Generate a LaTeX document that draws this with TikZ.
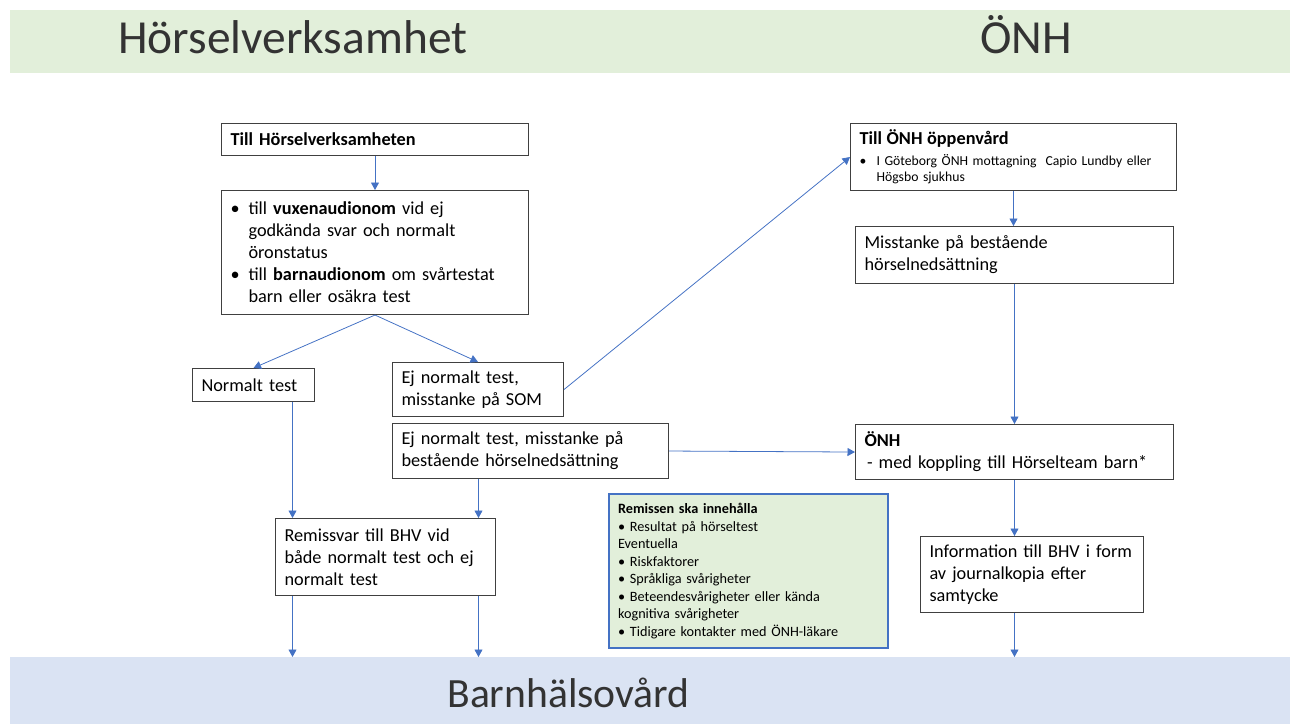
\documentclass[tikz,border=0pt]{standalone}
\usepackage{fontspec}
\setmainfont{Carlito}
\usetikzlibrary{arrows.meta, positioning}
\definecolor{bandgreen}{HTML}{E2EFDA}
\definecolor{bandblue}{HTML}{DAE3F3}
\definecolor{arrowblue}{HTML}{4472C4}
\definecolor{boxline}{HTML}{404040}
\newcommand\bul{\makebox[0.36cm][l]{\textbullet}}
\newcommand\ind{\hspace*{0.36cm}}

\begin{document}
\begin{tikzpicture}[
    x=0.02cm, y=-0.02cm,
    box/.style={draw=boxline, line width=0.6pt, fill=white, anchor=north west, align=left, inner xsep=0.18cm, inner ysep=0pt, font=\fontsize{10.4}{12.5}\selectfont},
    note/.style={box, draw=arrowblue, line width=1.2pt, fill=bandgreen, font=\fontsize{8.1}{10}\selectfont},
    band/.style={anchor=north west, minimum width=25.6cm, inner sep=0pt},
    heading/.style={font=\fontsize{27}{30}\selectfont, text=black!80, inner sep=0pt, anchor=base west},
    arr/.style={-{Triangle[length=1.5mm, width=1.6mm]}, draw=arrowblue, line width=0.45pt},
  ]
    \useasboundingbox (0,0) rectangle (1295,724);

    % bands
    \node[band, fill=bandgreen, minimum height=1.26cm] (top) at (10,10) {};
    \node[band, fill=bandblue, minimum height=1.34cm] (bhv) at (10,657) {};
    \node[heading] (hvtitle) at (118,53) {Hörselverksamhet};
    \node[heading] (onhtitle) at (980,53) {ÖNH};
    \node[heading, font=\fontsize{23.7}{28}\selectfont] (bhvtitle) at (447,707) {Barnhälsovård};

    % Hörselverksamhet
    \node[box, text width=5.78cm, minimum height=0.64cm] (hv) at (221,123) {\textbf{Till Hörselverksamheten}};
    \node[box, text width=5.78cm, minimum height=2.48cm] (aud) at (221,190)
      {\bul till \textbf{vuxenaudionom} vid ej\\
       \ind godkända svar och normalt\\
       \ind öronstatus\\
       \bul till \textbf{barnaudionom} om svårtestat\\
       \ind barn eller osäkra test};
    \node[box, text width=2.08cm, minimum height=0.66cm] (norm) at (192,368) {Normalt test};
    \node[box, text width=3.06cm, minimum height=1.08cm] (som) at (392,362) {Ej normalt test,\\misstanke på SOM};
    \node[box, text width=5.16cm, minimum height=1.10cm] (best) at (392,423) {Ej normalt test, misstanke på\\bestående hörselnedsättning};
    \node[box, text width=4.04cm, minimum height=1.54cm] (svar) at (275,518) {Remissvar till BHV vid\\både normalt test och ej\\normalt test};

    % ÖNH
    \node[box, text width=6.16cm, minimum height=1.34cm, font=\fontsize{7.8}{9.4}\selectfont] (oppen) at (850,123)
      {{\fontsize{10.4}{12.5}\selectfont\bfseries Till ÖNH öppenvård}\\[2.5pt]
       \makebox[0.34cm][l]{\textbullet}I Göteborg ÖNH mottagning\ \ Capio Lundby eller\\
       \hspace*{0.34cm}Högsbo sjukhus};
    \node[box, text width=6.00cm, minimum height=1.14cm] (miss) at (855,226) {Misstanke på bestående\\hörselnedsättning};
    \node[box, text width=6.00cm, minimum height=1.10cm] (onh) at (855,424) {\textbf{ÖNH}\\\hspace*{0.05cm}- med koppling till Hörselteam barn*};
    \node[box, text width=4.10cm, minimum height=1.52cm] (info) at (920,536) {Information till BHV i form\\av journalkopia efter\\samtycke};

    % remissens innehåll
    \node[note, text width=5.22cm, minimum height=3.08cm] (rem) at (608,493)
      {\textbf{Remissen ska innehålla}\\
       \textbullet\ Resultat på hörseltest\\
       Eventuella\\
       \textbullet\ Riskfaktorer\\
       \textbullet\ Språkliga svårigheter\\
       \textbullet\ Beteendesvårigheter eller kända\\
       kognitiva svårigheter\\
       \textbullet\ Tidigare kontakter med ÖNH-läkare};

    \coordinate (svarl) at ([xshift=-1.86cm]svar.north);
    \coordinate (svarr) at ([xshift=1.86cm]svar.north);

    \draw[arr] (hv) -- (aud);
    \draw[arr] (aud.south) -- (norm.north);
    \draw[arr] (aud.south) -- (som.north);
    \draw[arr] (som.east) -- (oppen.west);
    \draw[arr] (norm.south -| svarl) -- (svarl);
    \draw[arr] (best.south -| svarr) -- (svarr);
    \draw[arr] (svar.south -| svarl) -- (bhv.north -| svarl);
    \draw[arr] (svar.south -| svarr) -- (bhv.north -| svarr);
    \draw[arr] (best.east) -- (onh.west);
    \draw[arr] (oppen.south) -- (oppen.south |- miss.north);
    \draw[arr] (miss.south) -- (onh.north);
    \draw[arr] (onh.south) -- (onh.south |- info.north);
    \draw[arr] (onh.south |- info.south) -- (onh.south |- bhv.north);
  \end{tikzpicture}
\end{document}
